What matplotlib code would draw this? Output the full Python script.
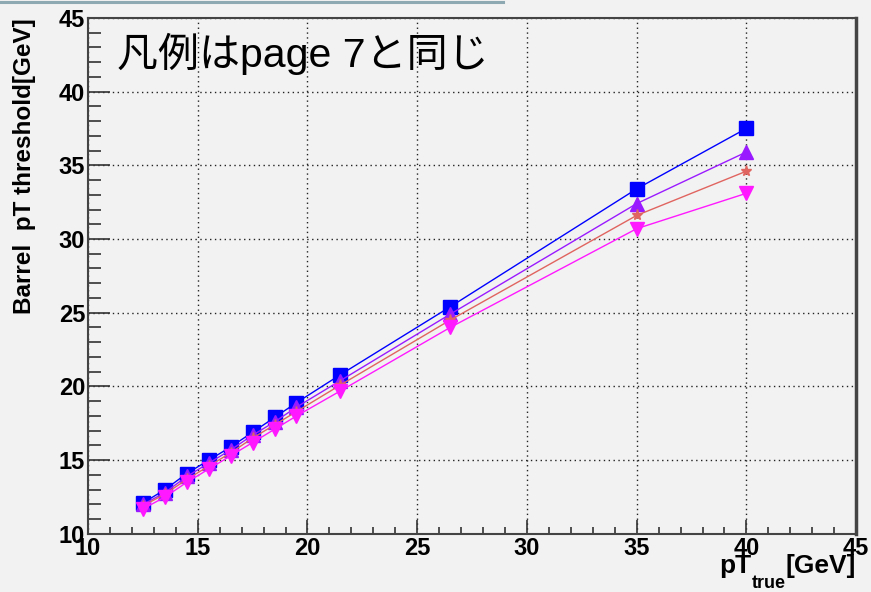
import matplotlib
matplotlib.use("Agg")
import matplotlib.pyplot as plt
from matplotlib.lines import Line2D
from matplotlib.ticker import MultipleLocator

plt.rcParams['font.family'] = ['Liberation Sans', 'DejaVu Sans']

# data
pt_true = [12.5, 13.5, 14.5, 15.5, 16.5, 17.5, 18.5, 19.5, 21.5, 26.5, 35, 40]
thr_blue = [12.1, 13.0, 14.1, 15.0, 15.9, 16.9, 17.9, 18.9, 20.8, 25.4, 33.4, 37.5]
thr_violet = [12.0, 12.8, 13.9, 14.8, 15.7, 16.7, 17.6, 18.6, 20.4, 24.9, 32.4, 35.9]
thr_red = [11.9, 12.7, 13.7, 14.6, 15.5, 16.5, 17.4, 18.3, 20.1, 24.5, 31.6, 34.6]
thr_magenta = [11.7, 12.5, 13.5, 14.4, 15.3, 16.2, 17.1, 18.0, 19.7, 24.0, 30.7, 33.1]

bg = '#f2f2f2'
fig = plt.figure(figsize=(8.71, 5.92), dpi=100, facecolor=bg)
ax = fig.add_axes([0.101, 0.098, 0.882, 0.872], facecolor=bg)

# slide border remnant at the top
fig.add_artist(Line2D([0, 0.578], [0.997, 0.997], color='#8ea9b2', lw=2.2,
                      transform=fig.transFigure))

ax.plot(pt_true, thr_blue, color='#0000ff', lw=1, marker='s', ms=9.5, zorder=3)
ax.plot(pt_true, thr_violet, color='#9a1aff', lw=1, marker='^', ms=9.5, zorder=4)
ax.plot(pt_true, thr_red, color='#e0645f', lw=1, marker='*', ms=8, zorder=5)
ax.plot(pt_true, thr_magenta, color='#ff19ff', lw=1, marker='v', ms=9.5, zorder=6)

ax.set_xlim(10, 45)
ax.set_ylim(10, 45)
ax.xaxis.set_major_locator(MultipleLocator(5))
ax.xaxis.set_minor_locator(MultipleLocator(1))
ax.yaxis.set_major_locator(MultipleLocator(5))
ax.yaxis.set_minor_locator(MultipleLocator(1))
ax.tick_params(which='both', direction='in', top=False, right=False,
               color='#333333', width=1.2)
ax.tick_params(axis='x', which='major', length=10, pad=2)
ax.tick_params(axis='x', which='minor', length=5)
ax.tick_params(axis='y', which='major', length=16, pad=2)
ax.tick_params(axis='y', which='minor', length=9)
for lab in ax.get_xticklabels() + ax.get_yticklabels():
    lab.set_fontsize(17)
    lab.set_fontweight('bold')

ax.grid(True, which='major', color='#222222', linestyle=(0, (1, 2.5)), lw=1)

for side in ['left', 'bottom', 'top']:
    ax.spines[side].set_color('#444444')
    ax.spines[side].set_linewidth(1.5)
ax.spines['right'].set_color('#444444')
ax.spines['right'].set_linewidth(2.5)

# axis titles, ROOT style
fig.text(25 / 871, 1 - 18 / 592, 'Barrel  pT threshold[GeV]', rotation=90,
         fontsize=17.5, fontweight='bold', ha='center', va='top')

t_gev = ax.text(1.0, -0.038, '[GeV]', transform=ax.transAxes, fontsize=19,
                fontweight='bold', ha='right', va='top')
t_sub = ax.annotate('true', xy=(0, 0.12), xycoords=t_gev, fontsize=13,
                    fontweight='bold', ha='right', va='top')
ax.annotate('pT', xy=(0, 1), xycoords=(t_sub, t_gev), fontsize=19,
            fontweight='bold', ha='right', va='top')

ax.text(0.038, 0.93, '凡例はpage 7と同じ', transform=ax.transAxes,
        fontsize=29.5, family=['Liberation Sans', 'Noto Sans CJK JP'],
        ha='left', va='center', color='black')

fig.savefig('out.png', dpi=100, facecolor=bg)
